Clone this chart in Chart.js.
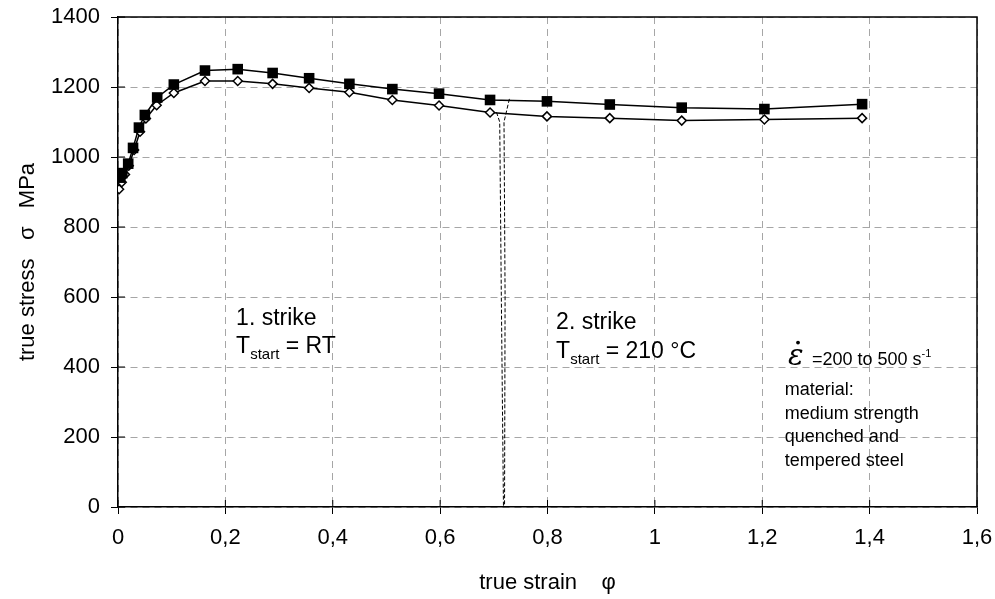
<!DOCTYPE html>
<html>
<head>
<meta charset="utf-8">
<script src="https://cdn.jsdelivr.net/npm/chart.js@4.4.1/dist/chart.umd.min.js"></script>
<style>
  html, body { margin: 0; padding: 0; background: #fff; }
  #wrap { width: 995px; height: 599px; }
</style>
</head>
<body>
<div id="wrap"><canvas id="chart" width="995" height="599"></canvas></div>
<script>
// 1. + 2. strike, filled squares
const strainSquare = [0.004, 0.008, 0.019, 0.028, 0.039, 0.050, 0.073, 0.104, 0.162, 0.223, 0.288, 0.356, 0.431, 0.511, 0.598, 0.693, 0.799, 0.916, 1.050, 1.204, 1.386];
const stressSquare = [941, 954, 981, 1026, 1084, 1120, 1170, 1207, 1247, 1251, 1240, 1225, 1209, 1194, 1181, 1163, 1159, 1150, 1141, 1137, 1151];

// open diamonds
const strainDiamond = [0.002, 0.007, 0.013, 0.020, 0.030, 0.041, 0.052, 0.072, 0.104, 0.162, 0.223, 0.288, 0.356, 0.431, 0.511, 0.598, 0.693, 0.799, 0.916, 1.050, 1.204, 1.386];
const stressDiamond = [908, 928, 950, 975, 1020, 1072, 1110, 1148, 1183, 1217, 1217, 1209, 1197, 1185, 1163, 1147, 1127, 1116, 1111, 1104, 1107, 1111];

// dashed separator between 1. and 2. strike
const sepLeftStrain = [0.705, 0.711, 0.714, 0.718];
const sepLeftStress = [1128, 1100, 600, 0];
const sepRightStrain = [0.729, 0.719, 0.721, 0.720];
const sepRightStress = [1166, 1100, 600, 0];

const xTicks = [0, 0.2, 0.4, 0.6, 0.8, 1, 1.2, 1.4, 1.6];
const yTicks = [0, 200, 400, 600, 800, 1000, 1200, 1400];

const toXY = (xs, ys) => xs.map((x, i) => ({ x: x, y: ys[i] }));

Chart.defaults.font.family = "'Liberation Sans', Arial, sans-serif";
Chart.defaults.color = '#000';

// frame top/right + the inner half of the tick marks
const framePlugin = {
  id: 'frame',
  afterDraw(chart) {
    const { ctx, chartArea: a, scales } = chart;
    ctx.save();
    ctx.strokeStyle = '#000';
    ctx.lineWidth = 1.5;
    ctx.beginPath();
    ctx.moveTo(a.left, a.top);
    ctx.lineTo(a.right, a.top);
    ctx.lineTo(a.right, a.bottom);
    ctx.stroke();
    ctx.lineWidth = 1;
    ctx.beginPath();
    scales.y.ticks.forEach((t, i) => {
      const y = scales.y.getPixelForTick(i);
      ctx.moveTo(a.left, y);
      ctx.lineTo(a.left + 7, y);
    });
    scales.x.ticks.forEach((t, i) => {
      const x = scales.x.getPixelForTick(i);
      ctx.moveTo(x, a.bottom);
      ctx.lineTo(x, a.bottom - 7);
    });
    ctx.stroke();
    ctx.restore();
  }
};

// texts inside the plot
const notesPlugin = {
  id: 'notes',
  afterDatasetsDraw(chart) {
    const { ctx, scales } = chart;
    const px = v => scales.x.getPixelForValue(v);
    const py = v => scales.y.getPixelForValue(v);
    const sans = s => s + "px 'Liberation Sans', Arial, sans-serif";
    ctx.save();
    ctx.fillStyle = '#000';
    ctx.textBaseline = 'alphabetic';
    ctx.textAlign = 'left';

    const tStart = (x, y, rest) => {
      ctx.font = sans(23);
      ctx.fillText('T', x, y);
      let w = ctx.measureText('T').width;
      ctx.font = sans(15);
      ctx.fillText('start', x + w, y + 6);
      w += ctx.measureText('start').width;
      ctx.font = sans(23);
      ctx.fillText(rest, x + w, y);
    };

    ctx.font = sans(23);
    ctx.fillText('1. strike', px(0.22), py(521));
    tStart(px(0.22), py(441), ' = RT');
    ctx.font = sans(23);
    ctx.fillText('2. strike', px(0.816), py(509));
    tStart(px(0.816), py(427), ' = 210 °C');

    // strain rate
    const ex = px(1.248), ey = py(407);
    ctx.font = "italic 29px 'DejaVu Serif', serif";
    ctx.fillText('ε', ex, ey);
    ctx.beginPath();
    ctx.arc(ex + 10, ey - 22, 1.9, 0, Math.PI * 2);
    ctx.fill();
    ctx.font = sans(18);
    const s = '=200 to 500 s';
    ctx.fillText(s, ex + 24, ey);
    const sw = ctx.measureText(s).width;
    ctx.font = sans(11);
    ctx.fillText('-1', ex + 24 + sw, ey - 8);

    ctx.font = sans(18);
    const mx = px(1.242);
    ['material:', 'medium strength', 'quenched and', 'tempered steel'].forEach((t, i) => {
      ctx.fillText(t, mx, py(320) + i * 23.7);
    });
    ctx.restore();
  }
};

new Chart(document.getElementById('chart'), {
  type: 'line',
  data: {
    datasets: [
      {
        data: toXY(strainSquare, stressSquare),
        borderColor: '#000',
        borderWidth: 1.5,
        pointStyle: 'rect',
        pointRadius: 7.5,
        pointBackgroundColor: '#000',
        pointBorderColor: '#000',
        pointBorderWidth: 0,
        tension: 0
      },
      {
        data: toXY(strainDiamond, stressDiamond),
        borderColor: '#000',
        borderWidth: 1.5,
        pointStyle: 'rectRot',
        pointRadius: 4.5,
        pointBackgroundColor: '#fff',
        pointBorderColor: '#000',
        pointBorderWidth: 1.5,
        tension: 0
      },
      {
        data: toXY(sepLeftStrain, sepLeftStress),
        borderColor: '#000',
        borderWidth: 1,
        borderDash: [4, 2],
        pointRadius: 0,
        tension: 0
      },
      {
        data: toXY(sepRightStrain, sepRightStress),
        borderColor: '#000',
        borderWidth: 1,
        borderDash: [4, 2],
        pointRadius: 0,
        tension: 0
      }
    ]
  },
  options: {
    responsive: false,
    animation: false,
    devicePixelRatio: 1,
    layout: { padding: { top: 17, right: 18, left: 0, bottom: 0 } },
    plugins: { legend: { display: false }, tooltip: { enabled: false } },
    scales: {
      x: {
        type: 'linear',
        min: 0,
        max: 1.6,
        afterFit: s => {
          s.height = 92;
          s.paddingLeft = 0;
          s.paddingRight = 0;
        },
        afterBuildTicks: s => { s.ticks = xTicks.map(v => ({ value: v })); },
        ticks: {
          font: { size: 22 },
          padding: 11,
          maxRotation: 0,
          callback: v => String(Number(v.toFixed(1))).replace('.', ',')
        },
        grid: {
          color: '#a6a6a6',
          lineWidth: 1,
          tickLength: 7,
          tickColor: '#000',
          tickWidth: 1
        },
        border: { display: true, color: '#000', width: 1.5, dash: [7, 5] },
        title: {
          display: true,
          text: 'true strain    φ',
          font: { size: 22 },
          padding: { top: 0, bottom: 3 }
        }
      },
      y: {
        type: 'linear',
        min: 0,
        max: 1400,
        afterFit: s => {
          s.width = 118;
          s.paddingTop = 0;
          s.paddingBottom = 0;
        },
        afterBuildTicks: s => { s.ticks = yTicks.map(v => ({ value: v })); },
        ticks: { font: { size: 22 }, padding: 11, callback: v => String(v) },
        grid: {
          color: '#a6a6a6',
          lineWidth: 1,
          tickLength: 7,
          tickColor: '#000',
          tickWidth: 1
        },
        border: { display: true, color: '#000', width: 1.5, dash: [7, 5] },
        title: {
          display: true,
          text: 'true stress   σ   MPa',
          font: { size: 22 },
          padding: { top: 15, bottom: 0 }
        }
      }
    }
  },
  plugins: [framePlugin, notesPlugin]
});
</script>
</body>
</html>
